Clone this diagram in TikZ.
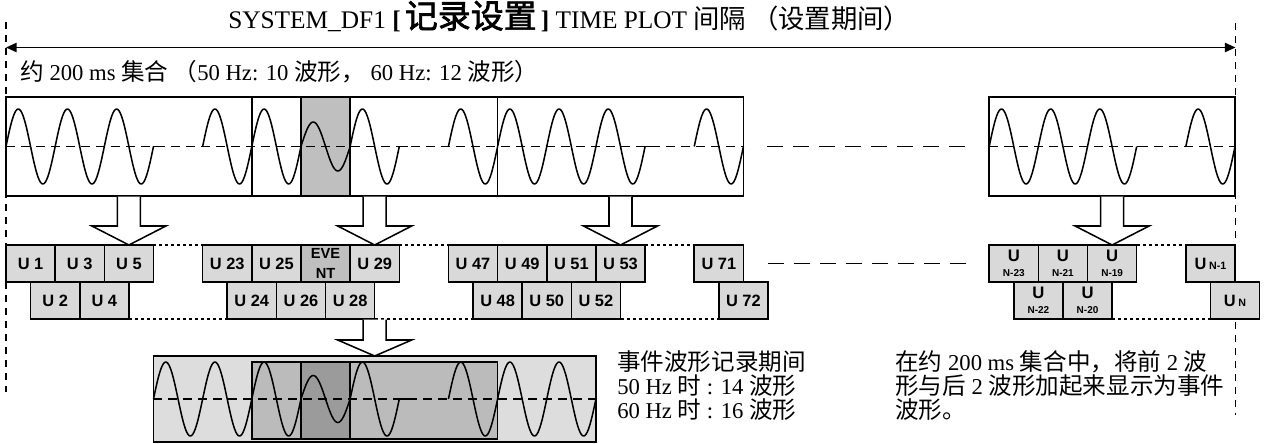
\documentclass[tikz,border=0pt]{standalone}
\usepackage{fontspec}
\setmainfont{Liberation Serif}
\newfontfamily\cjk[Scale=1.04]{Noto Sans CJK SC}
\newfontfamily\cjkb[Scale=1.3,FakeBold=2]{Noto Sans CJK SC}
\newfontfamily\lsans{Liberation Sans}
\usetikzlibrary{calc,arrows.meta}
\definecolor{boxg}{HTML}{D9D9D9}
\definecolor{evtg}{HTML}{BFBFBF}
\definecolor{bout}{HTML}{DDDDDD}
\definecolor{binn}{HTML}{BBBBBB}
\definecolor{bevt}{HTML}{9B9B9B}
\newcommand\gx[1]{6+49.16*(#1)}
\newcommand\wv[3]{\draw[wave] plot[variable=\t,domain=0:1,samples=41,smooth] ({\gx{#1}+49.16*\t},{#2-#3*sin(360*\t)});}
\newcommand\tk[2]{\draw[wave] ({\gx{#1}},#2) -- ++(9,0);}
\newcommand\harr[3]{\path[harrow] ($(#1)+(-11.5,0.7)$) -- ($(#2)+(-11.5,-#3)$) -- ($(#2)+(-37,-#3)$) -- (#2) -- ($(#2)+(37,-#3)$) -- ($(#2)+(11.5,-#3)$) -- ($(#1)+(11.5,0.7)$);}
\begin{document}
\begin{tikzpicture}[x=0.75pt,y=-0.75pt,
 lw/.style={line width=1.15pt},
 tbox/.style={draw, lw, inner sep=0, outer sep=0, minimum width=184.35pt, minimum height=74.25pt},
 ubox/.style={draw, lw, fill=boxg, inner sep=0, outer sep=0, minimum width=36.87pt, minimum height=27.75pt, font=\lsans\bfseries\fontsize{12.3}{13}\selectfont},
 ulab/.style={inner sep=0, font=\lsans\bfseries\fontsize{12.5}{13}\selectfont},
 usub/.style={inner sep=0, font=\lsans\bfseries\fontsize{7.5}{8}\selectfont},
 wave/.style={lw, line join=round},
 cdash/.style={lw, dash pattern=on 6.75pt off 4.5pt},
 ldash/.style={lw, dash pattern=on 12pt off 7.5pt},
 vdash/.style={lw, dash pattern=on 5.25pt off 4.5pt},
 dotl/.style={lw, dash pattern=on 2.25pt off 2.25pt},
 harrow/.style={draw, lw, fill=white, line join=miter},
 txt/.style={inner sep=0, anchor=base west, font=\fontsize{17}{19}\selectfont},
 gbox/.style={draw, lw, inner sep=0, outer sep=0},
]
\useasboundingbox (0,0) rectangle (1266,443);
% vertical dashed limits
\coordinate (vl1) at (6,22); \coordinate (vl2) at (6,392);
\coordinate (vr1) at (1235.5,23); \coordinate (vr2) at (1235.5,415);
\draw[vdash] (vl1) -- (vl2);
\draw[vdash] (vr1) -- (vr2);
% top interval arrow
\coordinate (al) at (6,47.5); \coordinate (ar) at (1235.5,47.5);
\draw[lw, {Triangle[length=8pt,width=7pt]}-{Triangle[length=8pt,width=7pt]}] (al) -- (ar);
% top waveform boxes
\filldraw[fill=evtg, lw] ({\gx{6}},97) rectangle ({\gx{7}},196);
\node[tbox] (t1) at ({\gx{2.5}},146.5) {};
\node[tbox] (t2) at ({\gx{7.5}},146.5) {};
\node[tbox] (t3) at ({\gx{12.5}},146.5) {};
\node[tbox] (t4) at ({\gx{22.5}},146.5) {};
\draw[cdash] (t1.west) -- (t3.east);
\draw[cdash] (t4.west) -- (t4.east);
\foreach \i in {0,1,2,4,5,7,9,10,11,12,14,20,21,22,24} {\wv{\i}{146.5}{37.5}}
\wv{6}{146.5}{24.5}
\foreach \i in {3,8,13,23} {\tk{\i}{146.5}}
\coordinate (ld1) at (767,146.5); \coordinate (ld2) at (965,146.5);
\draw[ldash] (ld1) -- (ld2);
% row boxes
\node[ubox] (u1) at ({\gx{0.5}},263.5) {U 1};
\node[ubox] (u3) at ({\gx{1.5}},263.5) {U 3};
\node[ubox] (u5) at ({\gx{2.5}},263.5) {U 5};
\node[ubox] (u2) at ({\gx{1}},300.5) {U 2};
\node[ubox] (u4) at ({\gx{2}},300.5) {U 4};
\node[ubox] (u23) at ({\gx{4.5}},263.5) {U 23};
\node[ubox] (u25) at ({\gx{5.5}},263.5) {U 25};
\node[ubox, fill=evtg, align=center, font=\lsans\bfseries\fontsize{11}{15}\selectfont] (ev) at ({\gx{6.5}},263.5) {EVE\\NT};
\node[ubox] (u29) at ({\gx{7.5}},263.5) {U 29};
\node[ubox] (u24) at ({\gx{5}},300.5) {U 24};
\node[ubox] (u26) at ({\gx{6}},300.5) {U 26};
\node[ubox] (u28) at ({\gx{7}},300.5) {U 28};
\node[ubox] (u47) at ({\gx{9.5}},263.5) {U 47};
\node[ubox] (u49) at ({\gx{10.5}},263.5) {U 49};
\node[ubox] (u51) at ({\gx{11.5}},263.5) {U 51};
\node[ubox] (u53) at ({\gx{12.5}},263.5) {U 53};
\node[ubox] (u48) at ({\gx{10}},300.5) {U 48};
\node[ubox] (u50) at ({\gx{11}},300.5) {U 50};
\node[ubox] (u52) at ({\gx{12}},300.5) {U 52};
\node[ubox] (u71) at ({\gx{14.5}},263.5) {U 71};
\node[ubox] (u72) at ({\gx{15}},300.5) {U 72};
\node[ubox] (n23) at ({\gx{20.5}},263.5) {};
\node[ubox] (n21) at ({\gx{21.5}},263.5) {};
\node[ubox] (n19) at ({\gx{22.5}},263.5) {};
\node[ubox] (n22) at ({\gx{21}},300.5) {};
\node[ubox] (n20) at ({\gx{22}},300.5) {};
\foreach \nm/\lab in {n23/N-23,n21/N-21,n19/N-19,n22/N-22,n20/N-20} {
  \node[ulab] (\nm a) at ($(\nm.center)+(0,-7.5)$) {U};
  \node[usub] (\nm b) at ($(\nm.center)+(0,9.5)$) {\lab};
}
\node[ubox] (un1) at ({\gx{24.5}},263.5) {U\,{\fontsize{8}{8}\selectfont N-1}};
\node[ubox] (un) at ({\gx{25}},300.5) {U\,{\fontsize{8}{8}\selectfont N}};
% dotted guide lines
\draw[dotl] (u5.north east) -- (u23.north west);
\draw[dotl] (u29.north east) -- (u47.north west);
\draw[dotl] (u53.north east) -- (u71.north west);
\draw[dotl] (n19.north east) -- (un1.north west);
\draw[dotl] (u4.south east) -- (u24.south west);
\draw[dotl] (u28.south east) -- (u48.south west);
\draw[dotl] (u52.south east) -- (u72.south west);
\draw[dotl] (n20.south east) -- (un.south west);
\coordinate (rd1) at (768,263.5); \coordinate (rd2) at (966,263.5);
\draw[ldash] (rd1) -- (rd2);
% hollow arrows
\coordinate (s1) at (u5.north |- t1.south);
\coordinate (s2) at (u29.north |- t2.south);
\coordinate (s3) at (u53.north |- t3.south);
\coordinate (s4) at (n19.north |- t4.south);
\harr{s1}{u5.north}{19}
\harr{s2}{u29.north}{19}
\harr{s3}{u53.north}{19}
\harr{s4}{n19.north}{19}
% bottom event waveform
\node[gbox, fill=bout, minimum width=331.83pt, minimum height=64.5pt] (bb) at ({\gx{7.5}},399) {};
\node[gbox, fill=binn, minimum width=184.35pt, minimum height=57.75pt] (bi) at ({\gx{7.5}},400.5) {};
\node[gbox, fill=bevt, minimum width=36.87pt, minimum height=57.75pt] (be) at ({\gx{6.5}},400.5) {};
\draw[cdash] (bb.west) -- (bb.east);
\foreach \i in {3,4,5,7,9,10,11} {\wv{\i}{399}{37}}
\wv{6}{399}{23.5}
\tk{8}{399}
\coordinate (s5) at (u28.south east);
\coordinate (tp5) at (u28.south east |- bb.north);
\harr{s5}{tp5}{16}
% texts
\node[inner sep=0, anchor=base west, font=\fontsize{19}{22}\selectfont] (title) at (228,28)
  {SYSTEM\_DF1 \textbf{[}\,{\cjkb 记录设置}\,\textbf{]} TIME PLOT {\cjk 间隔 （设置期间）}};
\node[txt] (sub) at (20,80) {{\cjk 约} 200 ms {\cjk 集合 （}50 Hz: 10 {\cjk 波形，} 60 Hz: 12 {\cjk 波形）}};
\node[txt] (l1) at (617,370) {{\cjk 事件波形记录期间}};
\node[txt] (l2) at (617,394) {50 Hz {\cjk 时} : 14 {\cjk 波形}};
\node[txt] (l3) at (617,418) {60 Hz {\cjk 时} : 16 {\cjk 波形}};
\node[txt] (r1) at (895,370) {{\cjk 在约} 200 ms {\cjk 集合中，将前} 2 {\cjk 波}};
\node[txt] (r2) at (895,394) {{\cjk 形与后} 2 {\cjk 波形加起来显示为事件}};
\node[txt] (r3) at (895,418) {{\cjk 波形。}};
\end{tikzpicture}
\end{document}
